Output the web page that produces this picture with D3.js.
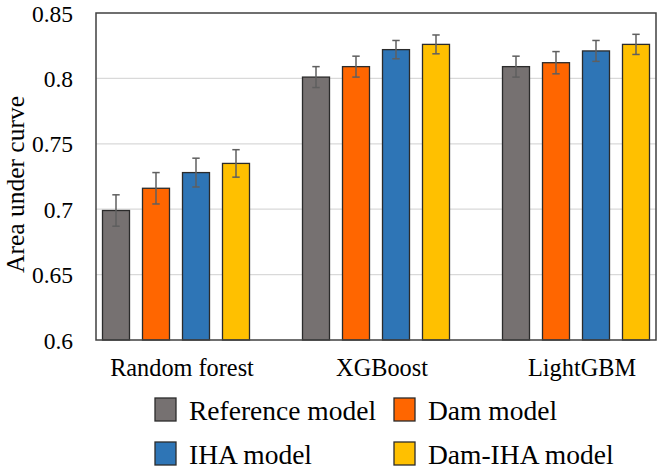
<!DOCTYPE html>
<html>
<head>
<meta charset="utf-8">
<script src="https://cdn.jsdelivr.net/npm/d3@7"></script>
</head>
<body style="margin:0;background:#fff">
<svg width="661" height="471" font-family="Liberation Serif"></svg>
<script>
// data
const categories = ["Random forest", "XGBoost", "LightGBM"];
const seriesNames = ["Reference model", "Dam model", "IHA model", "Dam-IHA model"];
const seriesColors = ["#767171", "#ff6600", "#2e75b6", "#ffc000"];

const refValues = [0.699, 0.801, 0.809];
const damValues = [0.716, 0.809, 0.812];
const ihaValues = [0.728, 0.822, 0.821];
const damIhaValues = [0.735, 0.826, 0.826];

const refErr = [0.012, 0.008, 0.008];
const damErr = [0.012, 0.008, 0.0085];
const ihaErr = [0.011, 0.007, 0.008];
const damIhaErr = [0.0105, 0.0072, 0.0077];

const yTicks = [0.6, 0.65, 0.7, 0.75, 0.8, 0.85];

const allValues = [refValues, damValues, ihaValues, damIhaValues];
const allErr = [refErr, damErr, ihaErr, damIhaErr];

const FONT = "Liberation Serif";

// plot area
const plot = {left: 96, right: 656, top: 13, bottom: 340};

var svg = d3.select("svg");

var y = d3.scaleLinear()
  .domain([0.6, 0.85])
  .range([plot.bottom, plot.top]);

// groups are 200px apart, a bit wider than the plot area allows
var x0 = d3.scaleBand()
  .domain(categories)
  .range([76, 676]);

var x1 = d3.scaleBand()
  .domain(seriesNames)
  .range([-73.5, 73.5])
  .paddingInner(0.325)
  .paddingOuter(0);

// gridlines
svg.append("g")
  .selectAll("line")
  .data(yTicks.filter(d => d > 0.6 && d < 0.85))
  .enter()
  .append("line")
  .attr("x1", plot.left)
  .attr("x2", plot.right)
  .attr("y1", d => y(d))
  .attr("y2", d => y(d))
  .attr("stroke", "#d9d9d9")
  .attr("stroke-width", 1.2);

// y tick labels
var yAxis = d3.axisLeft(y)
  .tickValues(yTicks)
  .tickSize(0)
  .tickPadding(23)
  .tickFormat(d => String(+d.toFixed(2)));

svg.append("g")
  .attr("transform", "translate(" + plot.left + ",0)")
  .call(yAxis)
  .attr("font-family", FONT)
  .attr("font-size", 23.5)
  .call(g => g.select(".domain").remove())
  .selectAll("text")
  .attr("fill", "#000")
  .attr("dy", "0.34em");

// bars
var rows = [];
categories.forEach(function (c, i) {
  seriesNames.forEach(function (s, j) {
    rows.push({cat: c, series: s, value: allValues[j][i], err: allErr[j][i], color: seriesColors[j]});
  });
});

var bars = svg.append("g")
  .selectAll("g")
  .data(rows)
  .enter()
  .append("g")
  .attr("transform", d => "translate(" + (x0(d.cat) + x0.bandwidth() / 2 + x1(d.series)) + ",0)");

bars.append("rect")
  .attr("x", 0)
  .attr("y", d => y(d.value))
  .attr("width", x1.bandwidth())
  .attr("height", d => plot.bottom - y(d.value))
  .attr("fill", d => d.color)
  .attr("stroke", "#2b2b2b")
  .attr("stroke-width", 1.3);

// error bars
var bw = x1.bandwidth();
bars.append("line")
  .attr("x1", bw / 2).attr("x2", bw / 2)
  .attr("y1", d => y(d.value + d.err))
  .attr("y2", d => y(d.value - d.err))
  .attr("stroke", "#5f5f5f")
  .attr("stroke-width", 1.5);
bars.append("line")
  .attr("x1", bw / 2 - 3.7).attr("x2", bw / 2 + 3.7)
  .attr("y1", d => y(d.value + d.err))
  .attr("y2", d => y(d.value + d.err))
  .attr("stroke", "#5f5f5f")
  .attr("stroke-width", 1.5);
bars.append("line")
  .attr("x1", bw / 2 - 3.7).attr("x2", bw / 2 + 3.7)
  .attr("y1", d => y(d.value - d.err))
  .attr("y2", d => y(d.value - d.err))
  .attr("stroke", "#5f5f5f")
  .attr("stroke-width", 1.5);

// plot frame
svg.append("rect")
  .attr("x", plot.left)
  .attr("y", plot.top)
  .attr("width", plot.right - plot.left)
  .attr("height", plot.bottom - plot.top)
  .attr("fill", "none")
  .attr("stroke", "#404040")
  .attr("stroke-width", 1.5);

// category labels
svg.append("g")
  .selectAll("text")
  .data(categories)
  .enter()
  .append("text")
  .attr("x", d => x0(d) + x0.bandwidth() / 2 + 6)
  .attr("y", 376)
  .attr("text-anchor", "middle")
  .attr("font-family", FONT)
  .attr("font-size", 24.3)
  .text(d => d);

// y axis title
svg.append("text")
  .attr("transform", "translate(24," + ((plot.top + plot.bottom) / 2 + 8) + ") rotate(-90)")
  .attr("text-anchor", "middle")
  .attr("font-family", FONT)
  .attr("font-size", 25.5)
  .text("Area under curve");

// legend
var legendPos = [[155, 398], [394, 398], [155, 442], [394, 442]];
var legend = svg.append("g")
  .selectAll("g")
  .data(seriesNames)
  .enter()
  .append("g")
  .attr("transform", (d, i) => "translate(" + legendPos[i][0] + "," + legendPos[i][1] + ")");

legend.append("rect")
  .attr("width", 21)
  .attr("height", 23)
  .attr("fill", (d, i) => seriesColors[i])
  .attr("stroke", "#2b2b2b")
  .attr("stroke-width", 1.3);

legend.append("text")
  .attr("x", 34)
  .attr("y", 22)
  .attr("font-family", FONT)
  .attr("font-size", 27.5)
  .text(d => d);
</script>
</body>
</html>
